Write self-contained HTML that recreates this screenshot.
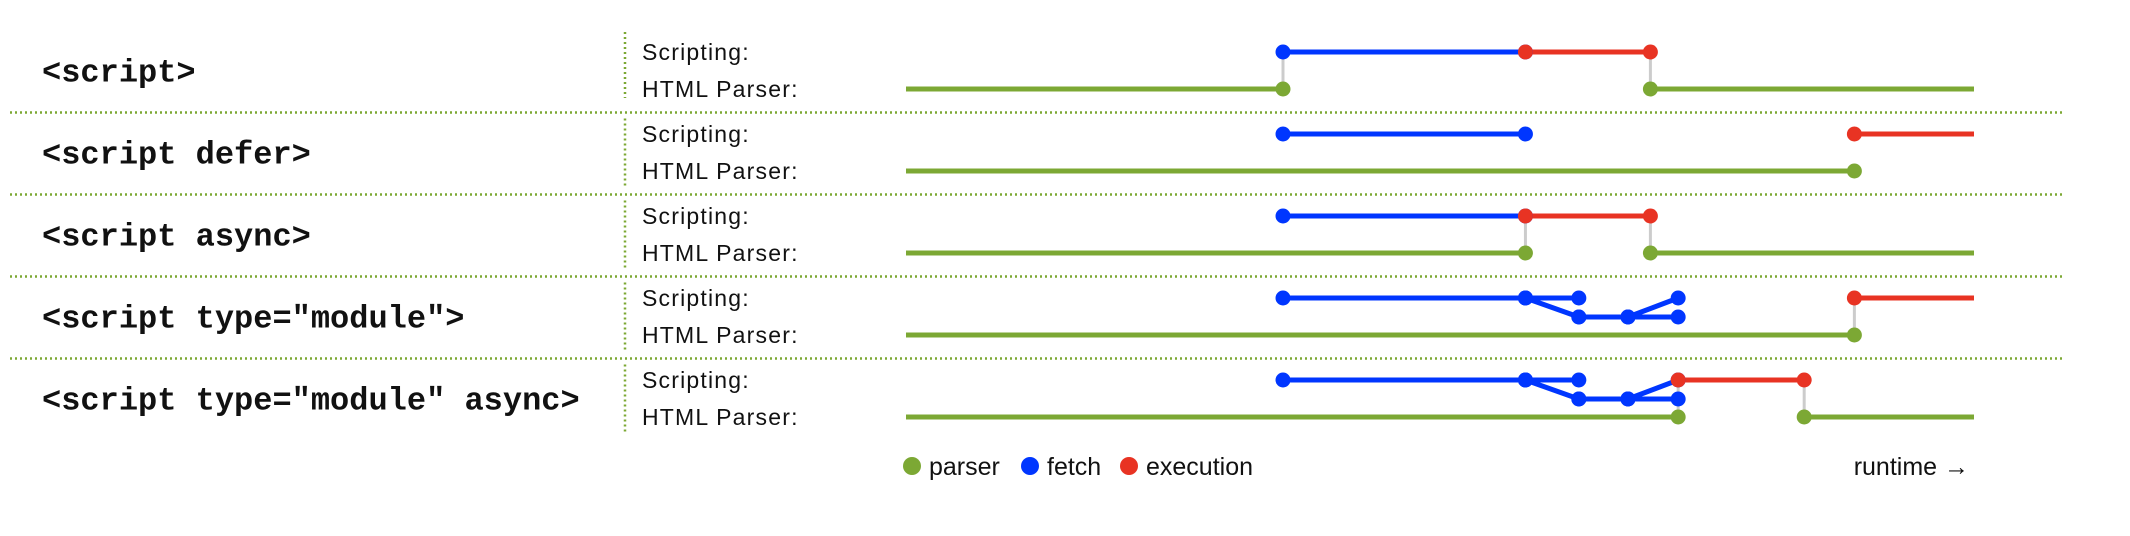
<!DOCTYPE html>
<html><head><meta charset="utf-8"><style>
html,body{margin:0;padding:0;background:#fff;}
svg{display:block;}
.mono{font-family:"Liberation Mono","Courier New",monospace;font-weight:bold;font-size:32px;fill:#111;}
.sans{font-family:"Liberation Sans",Arial,sans-serif;font-size:23px;fill:#111;}
.leg{font-family:"Liberation Sans",Arial,sans-serif;font-size:25px;fill:#111;}
</style></head><body>
<svg id="chart" width="2130" height="536" viewBox="0 0 2130 536" xmlns="http://www.w3.org/2000/svg"></svg>
<script>
const rowLabels = ['<script>', '<script defer>', '<script async>', '<script type="module">', '<script type="module" async>'];
const rowNames = ['script-plain', 'script-defer', 'script-async', 'script-module', 'script-module-async'];
// [row, start, end] in runtime units 0..100
const parserSegs = [[0,0,35.3],[0,69.7,100],[1,0,88.8],[2,0,58],[2,69.7,100],[3,0,88.8],[4,0,72.3],[4,84.1,100]];
// [row, lane0, t0, lane1, t1]
const fetchSegs = [
  [0,0,35.3,0,58],[1,0,35.3,0,58],[2,0,35.3,0,58],
  [3,0,35.3,0,58],[3,0,58,0,63],[3,0,58,1,63],[3,1,63,1,67.6],[3,1,67.6,1,72.3],[3,1,67.6,0,72.3],
  [4,0,35.3,0,58],[4,0,58,0,63],[4,0,58,1,63],[4,1,63,1,67.6],[4,1,67.6,1,72.3],[4,1,67.6,0,72.3]
];
const execSegs = [[0,58,69.7],[1,88.8,100],[2,58,69.7],[3,88.8,100],[4,72.3,84.1]];
// [row, t] gray connectors between scripting and parser lanes
const connectors = [[0,35.3],[0,69.7],[2,58],[2,69.7],[3,88.8],[4,72.3],[4,84.1]];
const legendItems = ['parser','fetch','execution'];

const GREEN='#7ca834', BLUE='#0036ff', RED='#e83323';
const svg = document.getElementById('chart');
const NS='http://www.w3.org/2000/svg';
function xS(t){ return 906 + t*10.68; }
function laneY(r, lane){ return 52 + r*82 + lane*19; }
function parserY(r){ return 52 + r*82 + 37; }
function mk(tag, attrs){ const e=document.createElementNS(NS,tag); for(const k in attrs) e.setAttribute(k,attrs[k]); svg.appendChild(e); return e; }

// separators
for(let i=0;i<4;i++){
  const y = 112.5 + i*82;
  const l = mk('line',{x1:10,x2:2063,y1:y,y2:y,stroke:GREEN,'stroke-width':2.5,'stroke-dasharray':'2 3'});
  
  
}
rowLabels.forEach((lab,r)=>{
  const top = r===0 ? 32 : 112.5+(r-1)*82+6;
  const bot = r===0 ? 98 : top+68;
  const v = mk('line',{x1:625,x2:625,y1:top,y2:bot,stroke:GREEN,'stroke-width':2.5,'stroke-dasharray':'2 3'});
  
  
  const t = mk('text',{x:42,y:73+r*82,'dominant-baseline':'central',class:'mono'});
  t.textContent = lab;
  
  
  const s = mk('text',{x:642,y:laneY(r,0),'dominant-baseline':'central',class:'sans','letter-spacing':'1.2'});
  s.textContent='Scripting:';
  
  
  const p = mk('text',{x:642,y:parserY(r),'dominant-baseline':'central',class:'sans','letter-spacing':'1.2'});
  p.textContent='HTML Parser:';
  
  
});
connectors.forEach(c=>{
  const l = mk('line',{x1:xS(c[1]),x2:xS(c[1]),y1:laneY(c[0],0),y2:parserY(c[0]),stroke:'#cccccc','stroke-width':3});
  
  
});
function dot(x,y,col,name){
  const d = mk('circle',{cx:x,cy:y,r:7.5,fill:col});
  
  
}
parserSegs.forEach(s=>{
  const y=parserY(s[0]);
  const l = mk('line',{x1:xS(s[1]),x2:xS(s[2]),y1:y,y2:y,stroke:GREEN,'stroke-width':5});
  
  
});
fetchSegs.forEach(s=>{
  const l = mk('line',{x1:xS(s[2]),x2:xS(s[4]),y1:laneY(s[0],s[1]),y2:laneY(s[0],s[3]),stroke:BLUE,'stroke-width':5});
  
  
});
execSegs.forEach(s=>{
  const y=laneY(s[0],0);
  const l = mk('line',{x1:xS(s[1]),x2:xS(s[2]),y1:y,y2:y,stroke:RED,'stroke-width':5});
  
  
});
parserSegs.forEach(s=>{
  const y=parserY(s[0]);
  if(s[1]>0) dot(xS(s[1]),y,GREEN,'parser-resume-dot');
  if(s[2]<100) dot(xS(s[2]),y,GREEN,'parser-pause-dot');
});
fetchSegs.forEach(s=>{
  dot(xS(s[2]),laneY(s[0],s[1]),BLUE,'fetch-dot');
  dot(xS(s[4]),laneY(s[0],s[3]),BLUE,'fetch-dot');
});
execSegs.forEach(s=>{
  const y=laneY(s[0],0);
  dot(xS(s[1]),y,RED,'execution-start-dot');
  if(s[2]<100) dot(xS(s[2]),y,RED,'execution-end-dot');
});
// legend
const legCols=[GREEN,BLUE,RED];
const legX=[912,1030,1129];
legendItems.forEach((name,i)=>{
  const c = mk('circle',{cx:legX[i],cy:466,r:9,fill:legCols[i]});
  
  
  const t = mk('text',{x:legX[i]+17,y:467,'dominant-baseline':'central',class:'leg'});
  t.textContent=name;
  
  
});
const rt = mk('text',{x:1969,y:467,'dominant-baseline':'central','text-anchor':'end',class:'leg'});
rt.textContent='runtime →';


</script>
</body></html>
